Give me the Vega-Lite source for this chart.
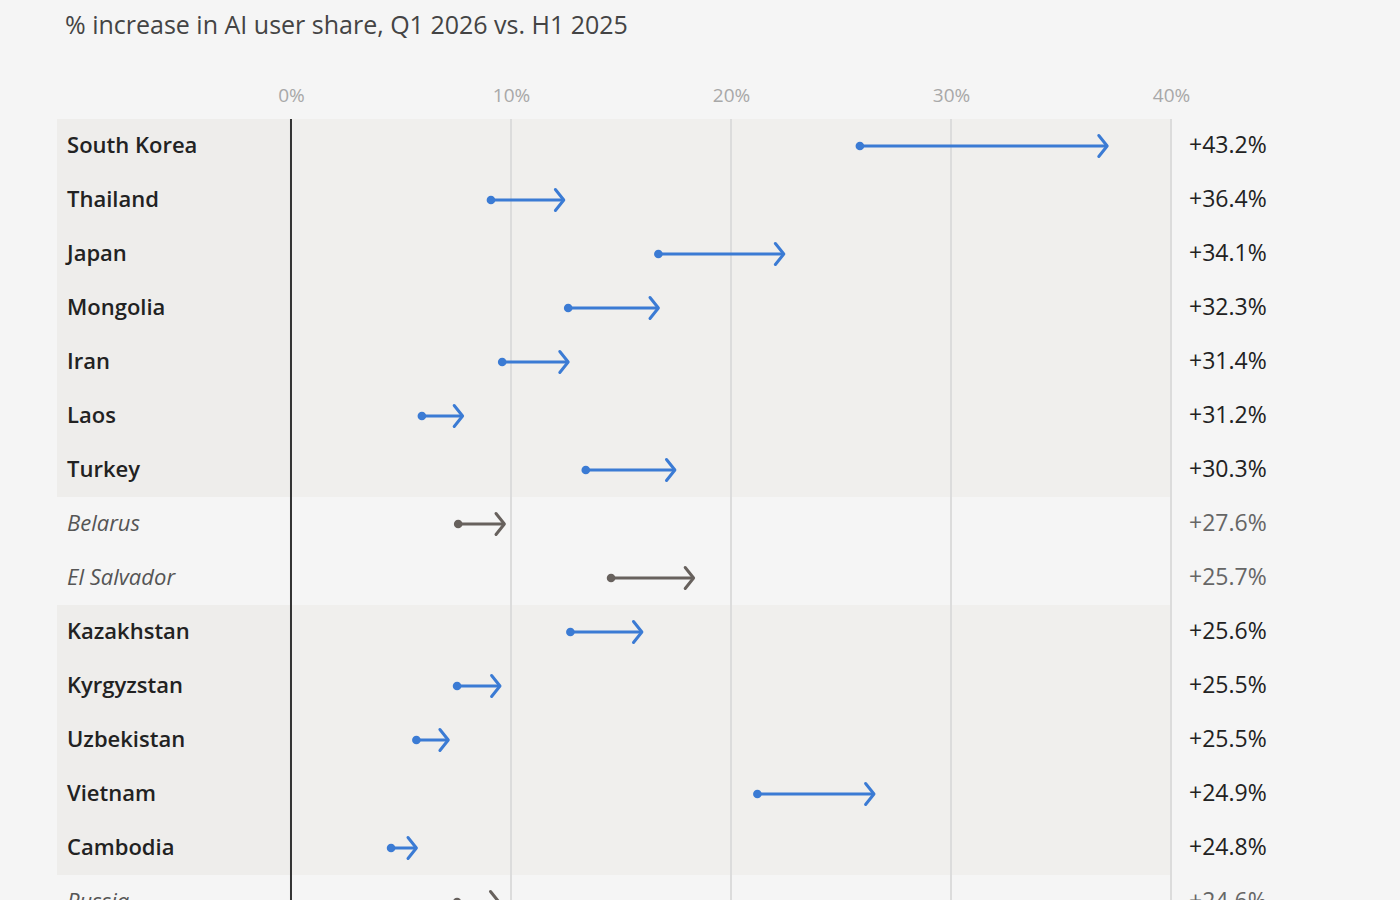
{
  "$schema": "https://vega.github.io/schema/vega-lite/v6.json",
  "width": 1233,
  "height": 810,
  "autosize": {"type": "none"},
  "padding": {"left": 57, "top": 119, "right": 110, "bottom": 0},
  "background": "#f5f5f5",
  "title": {"text": "% increase in AI user share, Q1 2026 vs. H1 2025", "anchor": "start", "frame": "group", "dx": 8, "offset": 47, "fontSize": 25, "font": "Open Sans", "fontWeight": "normal", "color": "#444444"},
  "config": {"view": {"stroke": null}, "font": "Open Sans"},
  "datasets": {
    "rows": [
      {"country": "South Korea", "start": 25.86, "end": 37.1, "pct": "+43.2%", "group": "hi"},
      {"country": "Thailand", "start": 9.09, "end": 12.4, "pct": "+36.4%", "group": "hi"},
      {"country": "Japan", "start": 16.7, "end": 22.4, "pct": "+34.1%", "group": "hi"},
      {"country": "Mongolia", "start": 12.6, "end": 16.7, "pct": "+32.3%", "group": "hi"},
      {"country": "Iran", "start": 9.6, "end": 12.6, "pct": "+31.4%", "group": "hi"},
      {"country": "Laos", "start": 5.95, "end": 7.8, "pct": "+31.2%", "group": "hi"},
      {"country": "Turkey", "start": 13.4, "end": 17.45, "pct": "+30.3%", "group": "hi"},
      {"country": "Belarus", "start": 7.6, "end": 9.7, "pct": "+27.6%", "group": "lo"},
      {"country": "El Salvador", "start": 14.55, "end": 18.3, "pct": "+25.7%", "group": "lo"},
      {"country": "Kazakhstan", "start": 12.7, "end": 15.95, "pct": "+25.6%", "group": "hi"},
      {"country": "Kyrgyzstan", "start": 7.55, "end": 9.5, "pct": "+25.5%", "group": "hi"},
      {"country": "Uzbekistan", "start": 5.7, "end": 7.15, "pct": "+25.5%", "group": "hi"},
      {"country": "Vietnam", "start": 21.2, "end": 26.5, "pct": "+24.9%", "group": "hi"},
      {"country": "Cambodia", "start": 4.55, "end": 5.7, "pct": "+24.8%", "group": "hi"},
      {"country": "Russia", "start": 7.55, "end": 9.45, "pct": "+24.6%", "group": "lo"}
    ],
    "grid": [{"v": 10}, {"v": 20}, {"v": 30}, {"v": 40}],
    "zero": [{"v": 0}]
  },
  "layer": [
    {
      "data": {"name": "rows"},
      "transform": [{"filter": "datum.group == 'hi'"}],
      "mark": {"type": "rect", "color": "#f0efed"},
      "encoding": {
        "y": {"field": "country", "type": "nominal", "sort": null, "scale": {"domain": ["South Korea", "Thailand", "Japan", "Mongolia", "Iran", "Laos", "Turkey", "Belarus", "El Salvador", "Kazakhstan", "Kyrgyzstan", "Uzbekistan", "Vietnam", "Cambodia", "Russia"], "paddingInner": 0, "paddingOuter": 0}, "axis": null},
        "x": {"datum": -10.636, "type": "quantitative", "scale": {"domain": [-10.636, 45.41], "nice": false, "zero": false},
          "axis": {"orient": "top", "values": [0, 10, 20, 30, 40], "labelExpr": "datum.value + '%'", "domain": false, "ticks": false, "tickSize": 0, "grid": false, "labelFontSize": 19, "labelColor": "#a8a8a8", "labelPadding": 14, "labelFont": "Open Sans", "title": null}},
        "x2": {"datum": 40}
      }
    },
    {
      "data": {"name": "rows"},
      "transform": [{"filter": "datum.group == 'hi'"}],
      "mark": {"type": "rect", "color": "#eeedeb"},
      "encoding": {
        "y": {"field": "country", "type": "nominal", "sort": null},
        "x": {"datum": -10.636, "type": "quantitative"},
        "x2": {"datum": 0}
      }
    },
    {
      "data": {"name": "grid"},
      "mark": {"type": "rule", "color": "#dcdcdc", "strokeWidth": 2},
      "encoding": {"x": {"field": "v", "type": "quantitative"}}
    },
    {
      "data": {"name": "zero"},
      "mark": {"type": "rule", "color": "#333333", "strokeWidth": 2},
      "encoding": {"x": {"field": "v", "type": "quantitative"}}
    },
    {
      "data": {"name": "rows"},
      "mark": {"type": "rule", "strokeWidth": 3},
      "encoding": {
        "y": {"field": "country", "type": "nominal", "sort": null},
        "x": {"field": "start", "type": "quantitative"},
        "x2": {"field": "end"},
        "color": {"field": "group", "type": "nominal", "scale": {"domain": ["hi", "lo"], "range": ["#3b7bd4", "#67615d"]}, "legend": null}
      }
    },
    {
      "data": {"name": "rows"},
      "mark": {"type": "point", "shape": "circle", "filled": true, "opacity": 1, "size": 75},
      "encoding": {
        "y": {"field": "country", "type": "nominal", "sort": null},
        "x": {"field": "start", "type": "quantitative"},
        "color": {"field": "group", "type": "nominal", "legend": null}
      }
    },
    {
      "data": {"name": "rows"},
      "mark": {"type": "point", "shape": "M-0.8,-1L0,0L-0.8,1", "filled": false, "opacity": 1, "size": 440, "strokeWidth": 3, "strokeCap": "round", "strokeJoin": "round"},
      "encoding": {
        "y": {"field": "country", "type": "nominal", "sort": null},
        "x": {"field": "end", "type": "quantitative"},
        "color": {"field": "group", "type": "nominal", "legend": null}
      }
    },
    {
      "data": {"name": "rows"},
      "transform": [{"filter": "datum.group == 'hi'"}],
      "mark": {"type": "text", "align": "left", "baseline": "middle", "fontSize": 22, "fontWeight": 600, "color": "#222222", "font": "Open Sans"},
      "encoding": {
        "y": {"field": "country", "type": "nominal", "sort": null},
        "x": {"datum": -10.18, "type": "quantitative"},
        "text": {"field": "country"}
      }
    },
    {
      "data": {"name": "rows"},
      "transform": [{"filter": "datum.group == 'lo'"}],
      "mark": {"type": "text", "align": "left", "baseline": "middle", "fontSize": 22, "fontStyle": "italic", "color": "#555555", "font": "Open Sans"},
      "encoding": {
        "y": {"field": "country", "type": "nominal", "sort": null},
        "x": {"datum": -10.18, "type": "quantitative"},
        "text": {"field": "country"}
      }
    },
    {
      "data": {"name": "rows"},
      "transform": [{"filter": "datum.group == 'hi'"}],
      "mark": {"type": "text", "align": "left", "baseline": "middle", "fontSize": 23, "color": "#222222", "font": "Open Sans"},
      "encoding": {
        "y": {"field": "country", "type": "nominal", "sort": null},
        "x": {"datum": 40.82, "type": "quantitative"},
        "text": {"field": "pct"}
      }
    },
    {
      "data": {"name": "rows"},
      "transform": [{"filter": "datum.group == 'lo'"}],
      "mark": {"type": "text", "align": "left", "baseline": "middle", "fontSize": 23, "color": "#666666", "font": "Open Sans"},
      "encoding": {
        "y": {"field": "country", "type": "nominal", "sort": null},
        "x": {"datum": 40.82, "type": "quantitative"},
        "text": {"field": "pct"}
      }
    }
  ]
}
